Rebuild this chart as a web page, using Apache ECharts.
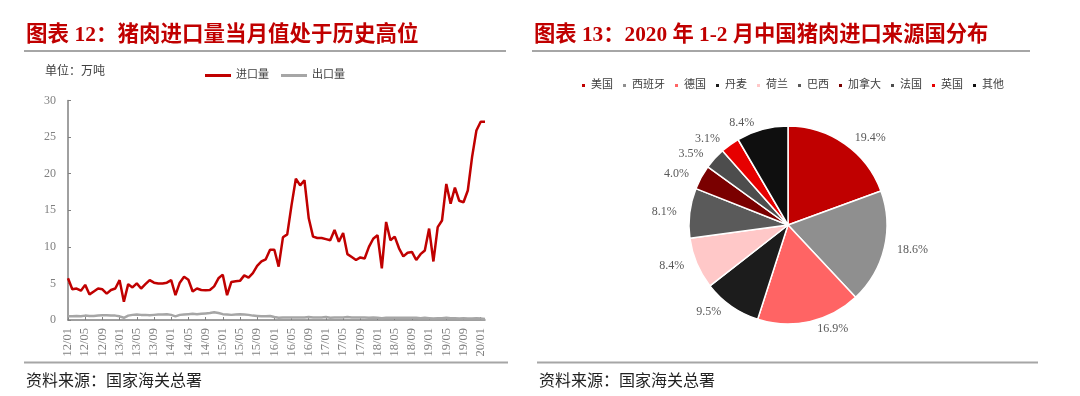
<!DOCTYPE html>
<html><head><meta charset="utf-8">
<script src="https://cdn.jsdelivr.net/npm/echarts@6/dist/echarts.min.js"></script>
<style>html,body{margin:0;padding:0;background:#fff;}#c{width:1080px;height:396px;}</style>
</head><body><div id="c"></div>
<script>
// ---- data ----
const importVals = [
 5.7,4.2,4.3,4.0,4.8,3.5,3.9,4.3,4.2,3.6,4.1,4.3,
 5.45,2.5,4.9,4.45,5.0,4.3,4.9,5.45,5.1,5.0,5.0,5.1,
 5.45,3.4,5.1,5.9,5.5,3.9,4.3,4.1,4.05,4.1,4.6,5.7,
 6.2,3.4,5.2,5.3,5.35,6.1,5.8,6.4,7.4,8.0,8.3,9.6,
 9.6,7.3,11.3,11.7,15.7,19.3,18.4,19.1,13.9,11.4,11.2,11.2,
 11.05,10.9,12.3,10.7,11.9,9.0,8.6,8.2,8.55,8.4,10.0,11.1,
 11.6,7.05,13.4,10.9,11.4,9.8,8.7,9.2,9.3,8.2,9.0,9.5,
 12.5,8.0,12.7,13.6,18.6,15.9,18.1,16.3,16.1,17.7,22.3,25.9,
 27.1,27.1
];
const exportVals = [
 0.5,0.5,0.55,0.5,0.6,0.55,0.55,0.6,0.65,0.65,0.6,0.6,
 0.5,0.3,0.6,0.7,0.75,0.7,0.7,0.65,0.7,0.75,0.75,0.8,
 0.7,0.5,0.7,0.75,0.8,0.85,0.8,0.85,0.9,0.95,1.05,0.95,
 0.8,0.75,0.7,0.75,0.8,0.75,0.7,0.6,0.55,0.5,0.5,0.55,
 0.4,0.3,0.35,0.35,0.35,0.35,0.35,0.35,0.4,0.35,0.35,0.35,
 0.4,0.3,0.35,0.35,0.35,0.4,0.35,0.35,0.35,0.35,0.3,0.35,
 0.3,0.25,0.3,0.3,0.3,0.3,0.3,0.3,0.3,0.3,0.25,0.3,
 0.25,0.2,0.25,0.25,0.3,0.25,0.25,0.2,0.25,0.2,0.2,0.25,
 0.2,0.15
];
const years = ['12','13','14','15','16','17','18','19','20'];
const months = ['01','02','03','04','05','06','07','08','09','10','11','12'];
const categories = [];
years.forEach(y => months.forEach(m => categories.push(y + '/' + m)));
categories.length = importVals.length;

const yTicks = { min: 0, max: 30, interval: 5 };

const pieNames = ['美国','西班牙','德国','丹麦','荷兰','巴西','加拿大','法国','英国','其他'];
const pieValues = [19.4,18.6,16.9,9.5,8.4,8.1,4.0,3.5,3.1,8.4];
const pieColors = ['#c00000','#8f8f8f','#ff6464','#1c1c1c','#ffc8c8','#5a5a5a','#7a0000','#4d4d4d','#e60000','#0f0f0f'];

const title1 = '图表 12：猪肉进口量当月值处于历史高位';
const title2 = '图表 13：2020 年 1-2 月中国猪肉进口来源国分布';
const source = '资料来源：国家海关总署';
const unitText = '单位：万吨';

// ---- chart ----
const serif = '"Liberation Serif","Noto Sans CJK SC",serif';
const cjk = '"Liberation Serif","Noto Sans CJK SC",sans-serif';
const chart = echarts.init(document.getElementById('c'));
chart.setOption({
  animation: false,
  backgroundColor: '#fff',
  graphic: [
    {type:'text', left:26, top:25, style:{text:title1, fontSize:21.5, fontWeight:'bold', fontFamily:cjk, fill:'#c00000'}},
    {type:'text', left:534, top:25, style:{text:title2, fontSize:21.3, fontWeight:'bold', fontFamily:cjk, fill:'#c00000'}},
    {type:'line', shape:{x1:24,y1:51,x2:506,y2:51}, style:{stroke:'#a6a6a6', lineWidth:2}},
    {type:'line', shape:{x1:532,y1:51,x2:1030,y2:51}, style:{stroke:'#a6a6a6', lineWidth:2}},
    {type:'line', shape:{x1:24,y1:362.5,x2:508,y2:362.5}, style:{stroke:'#a6a6a6', lineWidth:2}},
    {type:'line', shape:{x1:537,y1:362.5,x2:1038,y2:362.5}, style:{stroke:'#a6a6a6', lineWidth:2}},
    {type:'text', left:26, top:374, style:{text:source, fontSize:16, fontFamily:cjk, fill:'#222'}},
    {type:'text', left:539, top:374, style:{text:source, fontSize:16, fontFamily:cjk, fill:'#222'}},
    {type:'text', left:45, top:66, style:{text:unitText, fontSize:12, fontFamily:cjk, fill:'#404040'}}
  ],
  legend: [
    {data:['进口量','出口量'], left:200, top:65, icon:'rect', itemWidth:26, itemHeight:3, itemGap:12,
     textStyle:{fontSize:11, fontFamily:cjk, color:'#404040'}},
    {data:pieNames, left:575, top:75, icon:'rect', itemWidth:5, itemHeight:5, itemGap:8,
     textStyle:{fontSize:11, fontFamily:cjk, color:'#404040'}}
  ],
  grid: {left:68, right:595, top:100.5, bottom:76, containLabel:false},
  xAxis: {
    type:'category', data:categories, boundaryGap:false,
    axisLine:{lineStyle:{color:'#808080', width:1.5}},
    axisTick:{inside:true, length:3, interval:3, lineStyle:{color:'#808080'}},
    axisLabel:{interval:3, rotate:90, fontSize:12.5, fontFamily:serif, color:'#808080', margin:8}
  },
  yAxis: {
    type:'value', min:yTicks.min, max:yTicks.max, interval:yTicks.interval,
    splitLine:{show:false},
    axisLine:{show:true, lineStyle:{color:'#808080', width:1.5}},
    axisTick:{show:true, inside:true, length:3, lineStyle:{color:'#808080'}},
    axisLabel:{fontSize:12, fontFamily:serif, color:'#808080', margin:12}
  },
  series: [
    {name:'进口量', type:'line', data:importVals, symbol:'none', lineStyle:{color:'#c00000', width:2.5}, itemStyle:{color:'#c00000'}, z:3},
    {name:'出口量', type:'line', data:exportVals, symbol:'none', lineStyle:{color:'#a6a6a6', width:2.5}, itemStyle:{color:'#a6a6a6'}, z:2},
    {name:'来源国', type:'pie', center:[788,225], radius:[0,99], startAngle:90, clockwise:true,
     data: pieNames.map((n,i)=>({name:n, value:pieValues[i], itemStyle:{color:pieColors[i]}})),
     itemStyle:{borderColor:'#fff', borderWidth:1.5},
     label:{show:true, position:'outside', formatter:p=>p.value.toFixed(1)+'%', fontSize:12, fontFamily:serif, color:'#595959'},
     labelLine:{show:false, length:7, length2:1},
     emphasis:{disabled:true}
    }
  ]
});
</script></body></html>
